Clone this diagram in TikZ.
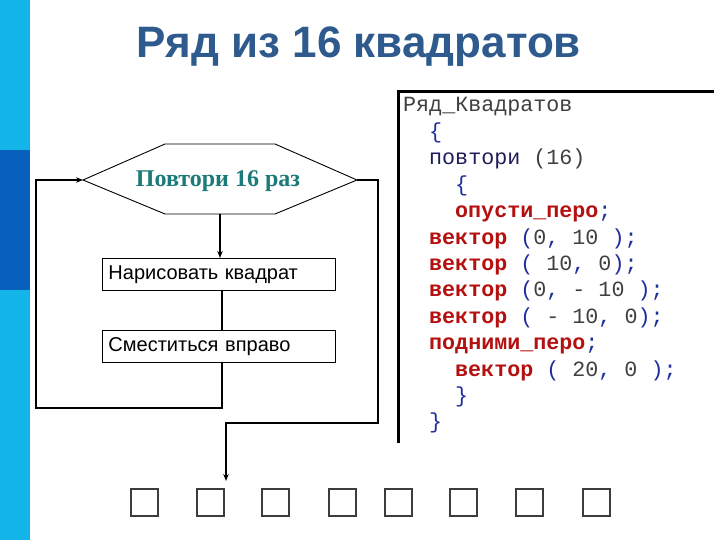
\documentclass[tikz,border=0pt]{standalone}
\usepackage{fontspec}
\setmainfont{Liberation Sans}
\newfontfamily\timesf{Liberation Serif}
\setmonofont{Liberation Mono}
\usetikzlibrary{arrows.meta}
\definecolor{barcyan}{HTML}{12B4EA}
\definecolor{bardark}{HTML}{0860BC}
\definecolor{titlec}{HTML}{2E5A8E}
\definecolor{tealc}{HTML}{1B7B78}
\definecolor{cred}{HTML}{B41010}
\definecolor{cblue}{HTML}{1E2E9A}
\definecolor{cgray}{HTML}{404040}
\definecolor{cnavy}{HTML}{1E1E5A}
\definecolor{sqc}{HTML}{3C3C3C}
\newcommand\kw[1]{\textcolor{cred}{\bfseries #1}}
\newcommand\pp[1]{\textcolor{cblue}{#1}}
\newcommand\nn[1]{\textcolor{cgray}{#1}}
\tikzset{
  flow/.style={line width=1.1pt, black},
  arr/.style={flow, -{Stealth[length=7pt,width=5.5pt]}},
  actbox/.style={draw, line width=0.9pt, anchor=north west, minimum width=233pt, minimum height=32pt,
    text width=221pt, inner xsep=6pt, align=left, font=\fontsize{20}{22}\selectfont},
  sqbox/.style={draw=sqc, line width=1.5pt, minimum size=27pt, inner sep=0pt, anchor=north west},
  codeline/.style={anchor=base west, inner sep=0pt, font=\ttfamily\fontsize{21.7}{24}\selectfont}
}
\begin{document}
\begin{tikzpicture}[x=1pt,y=-1pt]
\useasboundingbox (0,0) rectangle (720,540);
\fill[white] (0,0) rectangle (720,540);
% left bar
\fill[barcyan] (0,0) rectangle (30,540);
\fill[bardark] (0,150) rectangle (30,290);
% title
\node[anchor=base, text=titlec, font=\bfseries\fontsize{44}{48}\selectfont, inner sep=0pt] (title) at (359,58) {Ряд из 16 квадратов};
% hexagon
\coordinate (hexL) at (83,180);
\coordinate (hexR) at (357,180);
\coordinate (hexB) at (220,214);
\draw[line width=0.9pt] (hexL) -- (165,144) -- (275,144) -- (hexR) -- (275,214) -- (165,214) -- cycle;
\node[text=tealc, font=\timesf\bfseries\fontsize{24}{26}\selectfont] (rep) at (218,181) {Повтори 16 раз};
% boxes
\node[actbox] (b1) at (102,258) {Нарисовать квадрат};
\node[actbox] (b2) at (102,330) {Сместиться вправо};
% connectors
\draw[arr] (hexB) -- (hexB |- b1.north);
\coordinate (mid) at (222,0);
\draw[flow] (mid |- b1.south) -- (mid |- b2.north);
\coordinate (lb) at (36,408);
\draw[arr] (mid |- b2.south) |- (lb) |- (hexL);
\coordinate (rb) at (378,423);
\coordinate (tip) at (226,481);
\draw[arr] (hexR) -| (rb) -| (tip);
% squares
\foreach \i/\x in {1/130,2/196,3/261,4/328,5/384,6/449,7/515,8/582}{
  \node[sqbox] (sq\i) at (\x,488) {};
}
% code frame
\draw[line width=3pt] (398,443) -- (398,92) -- (714,92);
% code lines
\node[codeline] (c1) at (403,112) {\textcolor{cgray}{Ряд\_Квадратов}};
\node[codeline] (c2) at (429,138.4) {\pp{\{}};
\node[codeline] (c3) at (429,164.8) {\textcolor{cnavy}{повтори} \nn{(16)}};
\node[codeline] (c4) at (455,191.2) {\pp{\{}};
\node[codeline] (c5) at (455,217.6) {\kw{опусти\_перо}\pp{;}};
\node[codeline] (c6) at (429,244) {\kw{вектор} \pp{(}\nn{0}\pp{,} \nn{10} \pp{);}};
\node[codeline] (c7) at (429,270.4) {\kw{вектор} \pp{(} \nn{10}\pp{,} \nn{0}\pp{);}};
\node[codeline] (c8) at (429,296.8) {\kw{вектор} \pp{(}\nn{0}\pp{,} \nn{-} \nn{10} \pp{);}};
\node[codeline] (c9) at (429,323.2) {\kw{вектор} \pp{(} \nn{-} \nn{10}\pp{,} \nn{0}\pp{);}};
\node[codeline] (c10) at (429,349.6) {\kw{подними\_перо}\pp{;}};
\node[codeline] (c11) at (455,376) {\kw{вектор} \pp{(} \nn{20}\pp{,} \nn{0} \pp{);}};
\node[codeline] (c12) at (455,402.4) {\pp{\}}};
\node[codeline] (c13) at (429,428.8) {\pp{\}}};
\end{tikzpicture}
\end{document}
